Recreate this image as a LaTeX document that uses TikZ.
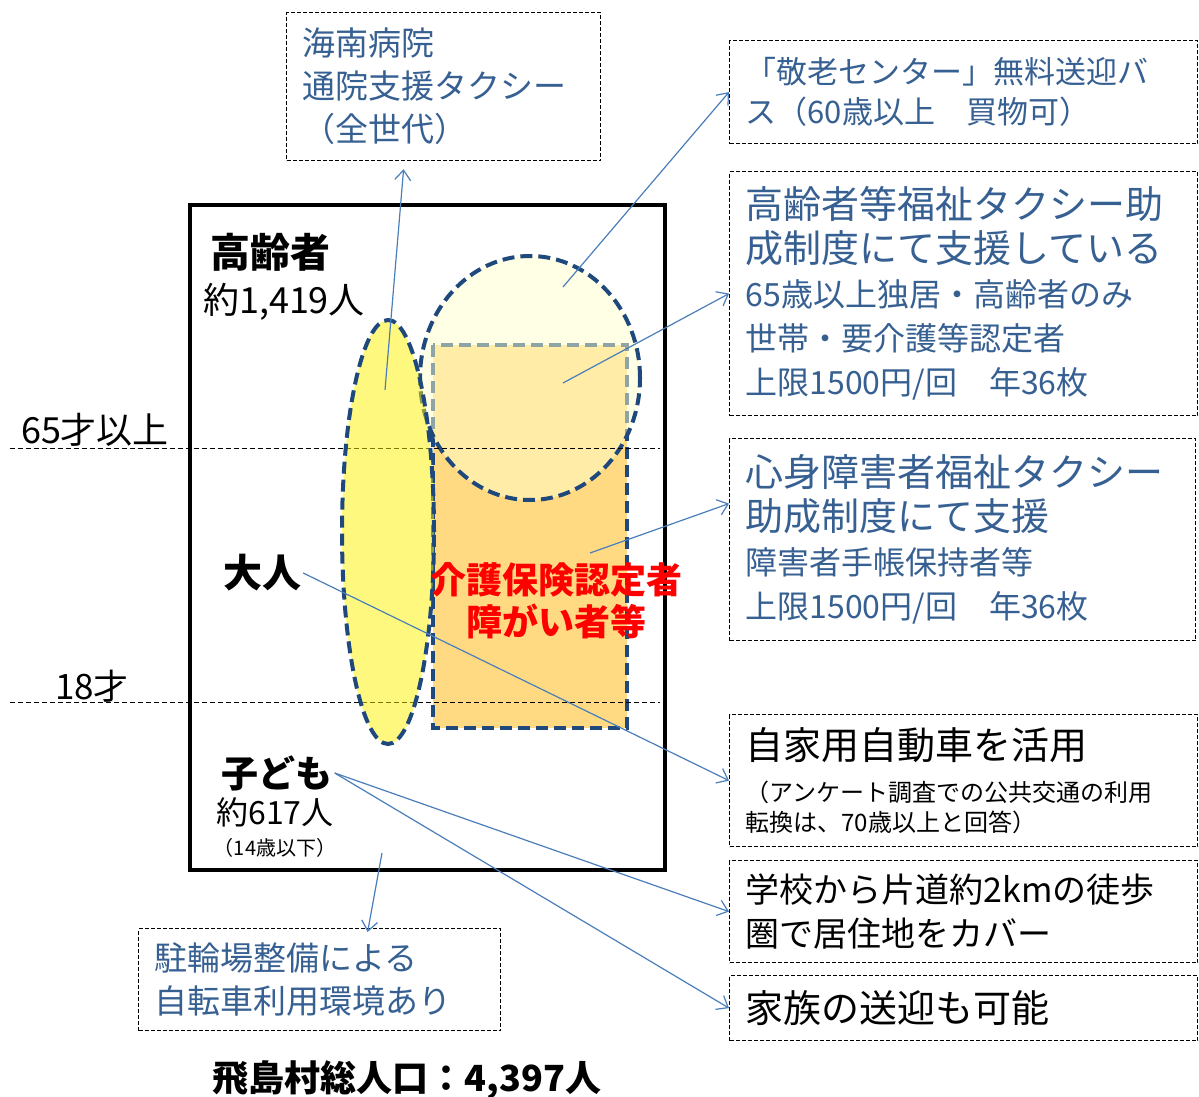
\documentclass[tikz,border=0pt]{standalone}
\usepackage{fontspec}
\setmainfont{Noto Sans CJK JP}
\usetikzlibrary{arrows.meta}
\definecolor{txtblue}{RGB}{55,96,146}
\definecolor{arrowblue}{RGB}{74,126,187}
\definecolor{edgeblue}{RGB}{31,73,125}
\definecolor{carefill}{RGB}{255,218,130}
\definecolor{elderfill}{RGB}{255,255,204}
\newcommand{\fsz}[2]{\fontsize{#1}{#2}\selectfont}
\tikzstyle{infobox}=[draw=black, line width=1.2pt, dash pattern=on 4pt off 2pt, inner xsep=16pt, inner ysep=0pt, align=left, anchor=north west]
\tikzstyle{label}=[inner sep=2pt, align=center]
\tikzstyle{blob}=[draw=edgeblue, line width=4pt, dash pattern=on 12pt off 6pt]
\tikzstyle{ageline}=[black, line width=1pt, dash pattern=on 5pt off 3pt]
\tikzstyle{link}=[arrowblue, line width=1.2pt, ->]

\begin{document}
\begin{tikzpicture}[x=1pt, y=-1pt, >={Straight Barb[length=10pt,width=16pt]}]
\useasboundingbox (0,0) rectangle (1199,1097);

% population frame and groups
\draw[line width=4pt] (190,205) rectangle (665,870);
\draw[blob, fill=carefill] (433,345) rectangle (627,728);
\draw[blob, fill=elderfill, fill opacity=0.5] (530,378) ellipse [x radius=110pt, y radius=122pt];
\draw[ageline] (10,448) -- (660,448);
\draw[ageline] (10,702) -- (660,702);
\draw[blob, fill=yellow, fill opacity=0.5] (388,532) ellipse [x radius=46pt, y radius=212pt];

% age labels
\node (over65) at (95,430) [label, font=\fsz{36}{40}] {65才以上};
\node (age18) at (92,686) [label, font=\fsz{35}{40}] {18才};
\node (elder) at (270,252) [label, font=\fsz{40}{44}\bfseries] {高齢者};
\node (eldercount) at (284,302) [label, font=\fsz{36}{40}] {約1,419人};
\node (adult) at (262,573) [label, font=\fsz{39}{44}\bfseries] {大人};
\node (kids) at (277,773) [label, font=\fsz{37}{42}\bfseries] {子ども};
\node (kidscount) at (275,812) [label, font=\fsz{32}{36}] {約617人};
\node (kidsage) at (275,848) [label, font=\fsz{20}{24}] {（14歳以下）};
\node (carelabel) at (556,601) [label, text=red, font=\fsz{36}{42}\bfseries] {介護保険認定者\\障がい者等};
\node (total) at (407,1080) [label, font=\fsz{36}{40}\bfseries] {飛島村総人口：4,397人};

% support boxes
\node (hospital) at (286,12) [infobox, text=txtblue, text width=282pt, minimum height=148pt, font=\fsz{33}{43}]
  {海南病院\\通院支援タクシー\\（全世代）};
\node (bus) at (729,40) [infobox, text=txtblue, text width=436pt, minimum height=103pt, font=\fsz{31}{40}]
  {「敬老センター」無料送迎バ\\ス（60歳以上　買物可）};
\node (eldertaxi) at (729,171) [infobox, text=txtblue, text width=436pt, minimum height=244pt, font=\fsz{32}{44}]
  {{\fsz{38}{44}高齢者等福祉タクシー助\\成制度にて支援している}\\65歳以上独居・高齢者のみ\\世帯・要介護等認定者\\上限1500円/回　年36枚};
\node (caretaxi) at (729,438) [infobox, text=txtblue, text width=434pt, minimum height=202pt, font=\fsz{32}{44}]
  {{\fsz{38}{44}心身障害者福祉タクシー\\助成制度にて支援}\\障害者手帳保持者等\\上限1500円/回　年36枚};
\node (car) at (729,714) [infobox, text width=436pt, minimum height=132pt, font=\fsz{24}{30}]
  {{\fsz{38}{44}自家用自動車を活用}\\[12pt]（アンケート調査での公共交通の利用\\転換は、70歳以上と回答）};
\node (school) at (729,860) [infobox, text width=436pt, minimum height=102pt, font=\fsz{34}{44}]
  {学校から片道約2kmの徒歩\\圏で居住地をカバー};
\node (family) at (729,975) [infobox, text width=436pt, minimum height=65pt, font=\fsz{38}{44}]
  {家族の送迎も可能};
\node (bike) at (138,928) [infobox, text=txtblue, text width=330pt, minimum height=102pt, font=\fsz{33}{43}]
  {駐輪場整備による\\自転車利用環境あり};

% arrows
\coordinate (hospitalsrc) at (385,390);
\coordinate (bussrc) at (563,287);
\coordinate (taxisrc) at (563,383);
\coordinate (caresrc) at (590,553);
\coordinate (bikesrc) at (382,853);
\draw[link] (hospitalsrc) -- ([xshift=-40pt,yshift=-8pt]hospital.south);
\draw[link] (bussrc) -- (bus.west);
\draw[link] (taxisrc) -- (eldertaxi.west);
\draw[link] (caresrc) -- ([yshift=36pt]caretaxi.west);
\draw[link] (adult.east) -- (car.west);
\draw[link] (kids.east) -- (school.west);
\draw[link] (kids.east) -- (family.west);
\draw[link] (bikesrc) -- ([xshift=48pt,yshift=-4pt]bike.north);
\end{tikzpicture}
\end{document}
